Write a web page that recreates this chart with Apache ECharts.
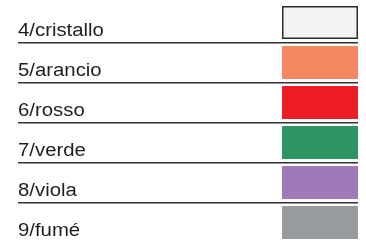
<!DOCTYPE html>
<html><head><meta charset="utf-8">
<script src="https://cdn.jsdelivr.net/npm/echarts@6/dist/echarts.min.js"></script>
<style>html,body{margin:0;padding:0;background:#fff}#c{width:366px;height:243px}</style>
</head><body><div id="c"></div>
<script>
const categories = ["4/cristallo","5/arancio","6/rosso","7/verde","8/viola","9/fumé"];
const swatchColors = ["#f2f2f2","#f58762","#ee1c25","#2e9663","#a07ab8","#979b9e"];
const swatchBorders = ["#2b2b2b",null,null,null,null,null];

const chart = echarts.init(document.getElementById('c'), null, {renderer:'canvas'});
chart.setOption({
  animation:false,
  grid:{left:18,right:8,top:3,bottom:0},
  xAxis:{type:'value',min:0,max:340,show:false},
  yAxis:{type:'category',data:categories,inverse:true,show:false},
  series:[{
    type:'custom',
    data:categories.map((c,i)=>[i]),
    renderItem:function(params,api){
      const i=api.value(0);
      const c=api.coord([0,i]);
      const bh=api.size([0,1])[1];
      const top=c[1]-bh/2;
      const x0=api.coord([0,i])[0];
      const x1=api.coord([340,i])[0];
      const sx=api.coord([264,i])[0];
      const children=[];
      const border=swatchBorders[i];
      children.push({type:'rect',shape:{x:sx+(border?0.75:0),y:top+3+(border?0.75:0),width:76-(border?1.5:0),height:33-(border?1.5:0)},
        style:{fill:swatchColors[i],stroke:border||null,lineWidth:border?1.5:0}});
      children.push({type:'text',x:x0,y:top+28,scaleX:1.13,scaleY:1,
        style:{text:categories[i],x:0,y:0,fill:'#1e1e1e',font:'18px "Liberation Sans", Arial, sans-serif',verticalAlign:'middle',align:'left'}});
      if(i<categories.length-1){
        children.push({type:'line',shape:{x1:x0,y1:top+bh-0.25,x2:x1,y2:top+bh-0.25},style:{stroke:'#333',lineWidth:1.5}});
      }
      return {type:'group',children:children};
    }
  }]
});
</script></body></html>
